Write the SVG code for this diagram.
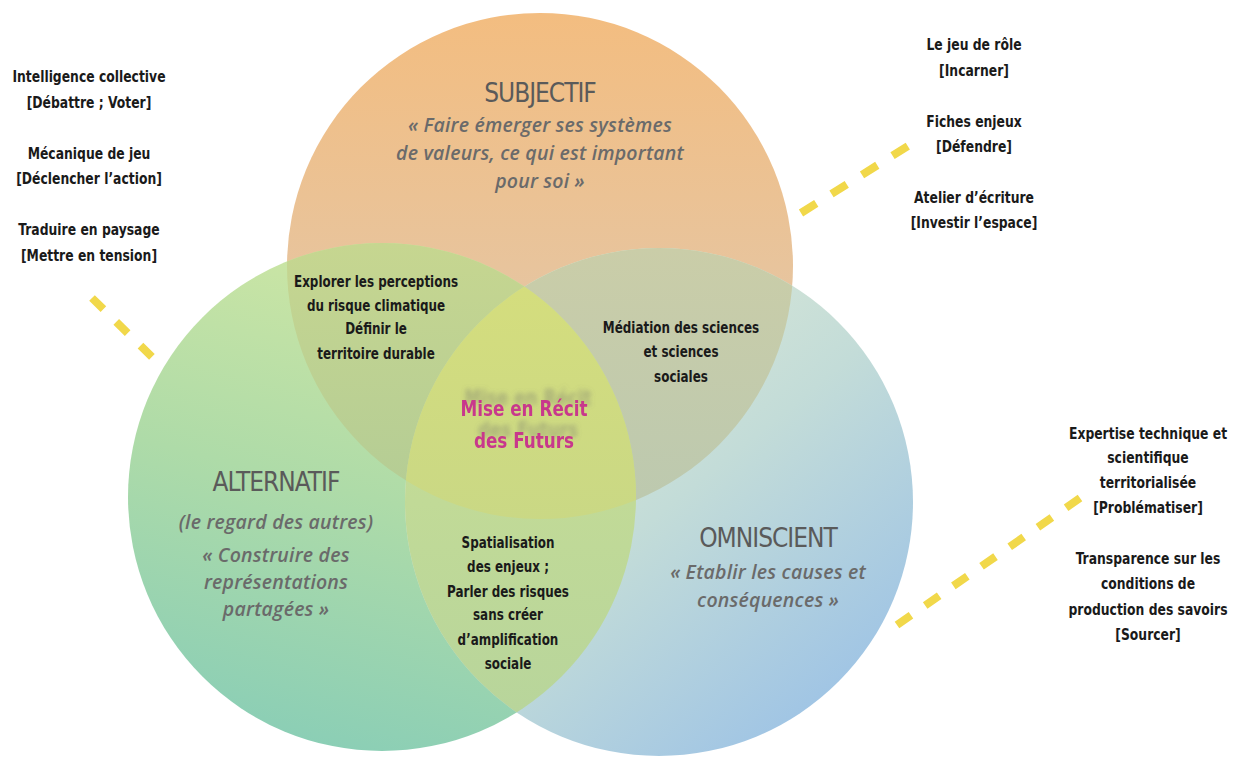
<svg xmlns="http://www.w3.org/2000/svg" width="1234" height="760" viewBox="0 0 1234 760">
<defs>
<linearGradient id="gTop" x1="0" y1="0" x2="0" y2="1">
<stop offset="0" stop-color="#F3BD80"/><stop offset="0.5" stop-color="#E8C49C"/><stop offset="1" stop-color="#D9CBBE"/>
</linearGradient>
<linearGradient id="gLeft" x1="0.6" y1="0" x2="0.35" y2="1">
<stop offset="0" stop-color="#D0E7A4"/><stop offset="0.5" stop-color="#AEDBA8"/><stop offset="1" stop-color="#8ACEB6"/>
</linearGradient>
<linearGradient id="gRight" x1="0.15" y1="0.1" x2="0.85" y2="0.95">
<stop offset="0" stop-color="#E2ECD6"/><stop offset="0.5" stop-color="#C3DCD8"/><stop offset="1" stop-color="#9CC2E6"/>
</linearGradient>
<linearGradient id="gTL" x1="0" y1="0" x2="0" y2="1">
<stop offset="0" stop-color="#C6D690"/><stop offset="1" stop-color="#A2C39A"/>
</linearGradient>
<linearGradient id="gTR" x1="0" y1="0" x2="0" y2="1">
<stop offset="0" stop-color="#CACDA8"/><stop offset="1" stop-color="#AFC5B6"/>
</linearGradient>
<linearGradient id="gLR" x1="0" y1="0" x2="0" y2="1">
<stop offset="0" stop-color="#CCE092"/><stop offset="1" stop-color="#B6D49C"/>
</linearGradient>
<linearGradient id="gC" x1="0" y1="0" x2="0" y2="1">
<stop offset="0" stop-color="#D6DE7C"/><stop offset="1" stop-color="#BFD38C"/>
</linearGradient>
<clipPath id="cTop"><circle cx="540" cy="266" r="253"/></clipPath>
<clipPath id="cLeft"><circle cx="382" cy="497" r="254"/></clipPath>
<clipPath id="cRight"><circle cx="659" cy="502" r="254"/></clipPath>
<filter id="shadow" x="-20%" y="-60%" width="140%" height="220%">
<feGaussianBlur in="SourceAlpha" stdDeviation="2.5" result="b"/>
<feOffset in="b" dx="4" dy="-11" result="o"/>
<feFlood flood-color="#6a6a6a" flood-opacity="0.4"/>
<feComposite in2="o" operator="in" result="s"/>
<feMerge><feMergeNode in="s"/><feMergeNode in="SourceGraphic"/></feMerge>
</filter>
</defs>
<style>
.lbl{font-family:"DejaVu Sans Condensed","DejaVu Sans",sans-serif;font-weight:bold;font-size:16px;fill:#1a1a1a;text-anchor:middle}
.ttl{font-family:"DejaVu Sans Condensed","DejaVu Sans",sans-serif;font-size:26px;fill:#5a5a5a;text-anchor:middle;letter-spacing:-1px}
.quo{font-family:"Open Sans",Lato,sans-serif;font-style:italic;font-weight:600;font-size:19.5px;fill:#6a6a6a;text-anchor:middle;letter-spacing:0.2px}
.ctr{font-family:"DejaVu Sans Condensed","DejaVu Sans",sans-serif;font-weight:bold;font-size:22px;fill:#C8388C;text-anchor:middle}
.dash{stroke:#F1D84A;stroke-width:8;fill:none}
</style>

<g id="circles">
<circle id="circle-subjectif" cx="540" cy="266" r="253" fill="url(#gTop)"/>
<circle id="circle-alternatif" cx="382" cy="497" r="254" fill="url(#gLeft)"/>
<circle id="circle-omniscient" cx="659" cy="502" r="254" fill="url(#gRight)"/>
<g clip-path="url(#cTop)"><circle cx="382" cy="497" r="254" fill="url(#gTL)"/></g>
<g clip-path="url(#cTop)"><circle cx="659" cy="502" r="254" fill="url(#gTR)"/></g>
<g clip-path="url(#cLeft)"><circle cx="659" cy="502" r="254" fill="url(#gLR)"/></g>
<g clip-path="url(#cTop)"><g clip-path="url(#cLeft)"><circle cx="659" cy="502" r="254" fill="url(#gC)"/></g></g>
</g>

<g id="connectors">
<line class="dash" x1="92" y1="298" x2="152" y2="357" stroke-dasharray="16 18"/>
<line class="dash" x1="801" y1="213" x2="908" y2="146" stroke-dasharray="18 18"/>
<line class="dash" x1="897" y1="625" x2="1080" y2="498" stroke-dasharray="17 17.3"/>
</g>

<g id="node-subjectif">
<text class="ttl" x="540" y="102">SUBJECTIF</text>
<text class="quo" x="540" y="132">« Faire émerger ses systèmes</text>
<text class="quo" x="540" y="160">de valeurs, ce qui est important</text>
<text class="quo" x="540" y="188">pour soi  »</text>
</g>

<g id="node-alternatif">
<text class="ttl" x="276" y="491">ALTERNATIF</text>
<text class="quo" x="276" y="529">(le regard des autres)</text>
<text class="quo" x="276" y="562">« Construire des</text>
<text class="quo" x="276" y="589">représentations</text>
<text class="quo" x="276" y="616">partagées »</text>
</g>

<g id="node-omniscient">
<text class="ttl" x="768" y="547">OMNISCIENT</text>
<text class="quo" x="768" y="579">« Etablir les causes et</text>
<text class="quo" x="768" y="607">conséquences »</text>
</g>

<g id="node-subjectif-alternatif" transform="translate(376 0) scale(0.83 1)">
<text class="lbl" x="0" y="287">Explorer les perceptions</text>
<text class="lbl" x="0" y="311">du risque climatique</text>
<text class="lbl" x="0" y="334">Définir le</text>
<text class="lbl" x="0" y="359">territoire durable</text>
</g>

<g id="node-subjectif-omniscient" transform="translate(681 0) scale(0.83 1)">
<text class="lbl" x="0" y="333">Médiation des sciences</text>
<text class="lbl" x="0" y="357">et sciences</text>
<text class="lbl" x="0" y="382">sociales</text>
</g>

<g id="node-alternatif-omniscient" transform="translate(508 0) scale(0.83 1)">
<text class="lbl" x="0" y="548">Spatialisation</text>
<text class="lbl" x="0" y="572">des enjeux ;</text>
<text class="lbl" x="0" y="597">Parler des risques</text>
<text class="lbl" x="0" y="620">sans créer</text>
<text class="lbl" x="0" y="645">d’amplification</text>
<text class="lbl" x="0" y="669">sociale</text>
</g>

<g id="node-centre" filter="url(#shadow)">
<g transform="translate(524 0) scale(0.85 1)">
<text class="ctr" x="0" y="416">Mise en Récit</text>
<text class="ctr" x="0" y="448">des Futurs</text>
</g>
</g>

<g id="node-outils-gauche" transform="translate(89 0) scale(0.86 1)">
<text class="lbl" x="0" y="82">Intelligence collective</text>
<text class="lbl" x="0" y="108">[Débattre ; Voter]</text>
<text class="lbl" x="0" y="159">Mécanique de jeu</text>
<text class="lbl" x="0" y="184">[Déclencher l’action]</text>
<text class="lbl" x="0" y="235">Traduire en paysage</text>
<text class="lbl" x="0" y="261">[Mettre en tension]</text>
</g>

<g id="node-outils-haut-droite" transform="translate(974 0) scale(0.86 1)">
<text class="lbl" x="0" y="50">Le jeu de rôle</text>
<text class="lbl" x="0" y="76">[Incarner]</text>
<text class="lbl" x="0" y="127">Fiches enjeux</text>
<text class="lbl" x="0" y="152">[Défendre]</text>
<text class="lbl" x="0" y="203">Atelier d’écriture</text>
<text class="lbl" x="0" y="228">[Investir l’espace]</text>
</g>

<g id="node-outils-bas-droite" transform="translate(1148 0) scale(0.86 1)">
<text class="lbl" x="0" y="439">Expertise technique et</text>
<text class="lbl" x="0" y="463">scientifique</text>
<text class="lbl" x="0" y="488">territorialisée</text>
<text class="lbl" x="0" y="513">[Problématiser]</text>
<text class="lbl" x="0" y="564">Transparence sur les</text>
<text class="lbl" x="0" y="589">conditions de</text>
<text class="lbl" x="0" y="615">production des savoirs</text>
<text class="lbl" x="0" y="640">[Sourcer]</text>
</g>
</svg>
